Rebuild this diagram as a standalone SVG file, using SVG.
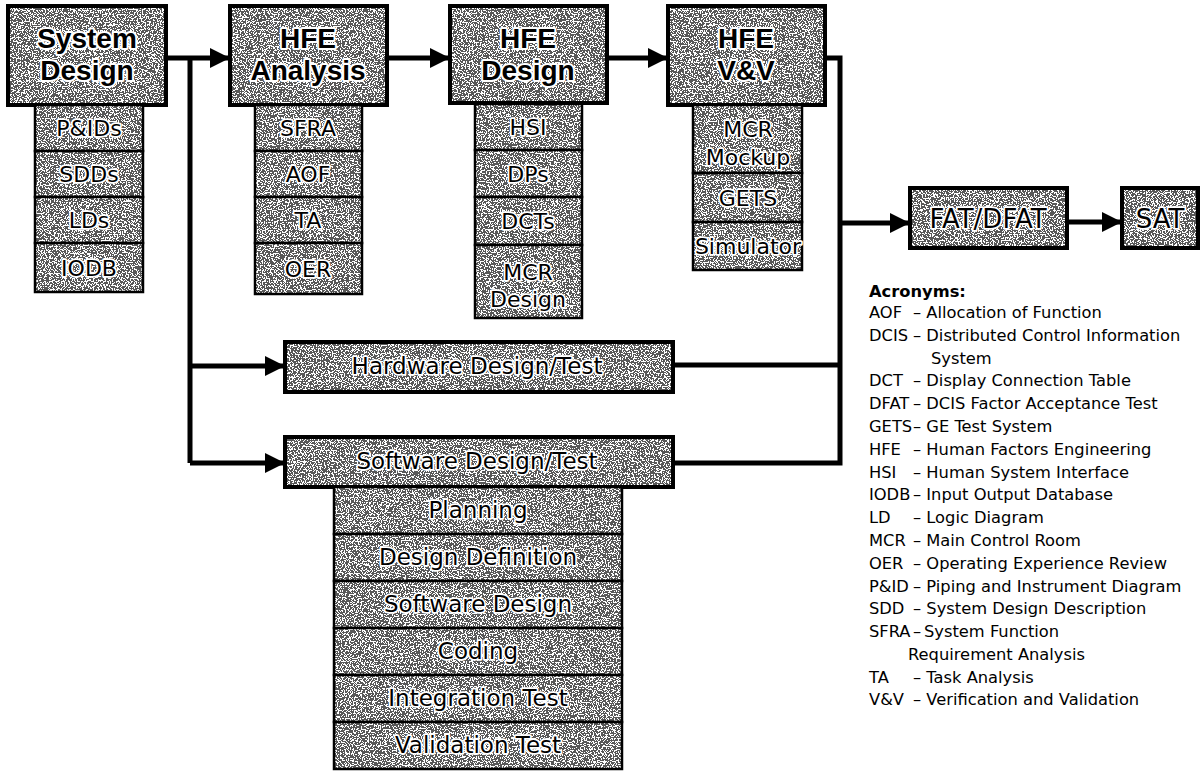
<svg xmlns="http://www.w3.org/2000/svg" width="1201" height="771" viewBox="0 0 1201 771">
<defs>
<filter id="grain" x="0" y="0" width="100%" height="100%" filterUnits="userSpaceOnUse">
<feTurbulence type="fractalNoise" baseFrequency="0.75" numOctaves="2" seed="7" result="n"/>
<feColorMatrix in="n" type="matrix" values="1 0 0 0 0  1 0 0 0 0  1 0 0 0 0  0 0 0 0 1" result="g"/>
<feComponentTransfer in="g">
<feFuncR type="discrete" tableValues="0.1 0.1 0.1 0.1 0.1 0.1 0.1 0.1 1 1 1 1 1 1 1"/>
<feFuncG type="discrete" tableValues="0.1 0.1 0.1 0.1 0.1 0.1 0.1 0.1 1 1 1 1 1 1 1"/>
<feFuncB type="discrete" tableValues="0.1 0.1 0.1 0.1 0.1 0.1 0.1 0.1 1 1 1 1 1 1 1"/>
</feComponentTransfer>
</filter>
<pattern id="noise" patternUnits="userSpaceOnUse" x="0" y="0" width="300" height="300">
<rect width="300" height="300" fill="#888" filter="url(#grain)"/>
</pattern>
<marker id="ah" markerUnits="userSpaceOnUse" markerWidth="22" markerHeight="22" refX="20" refY="10" orient="auto">
<path d="M0,0 L20,10 L0,20 Z" fill="#000"/>
</marker>
<style>
.main{fill:url(#noise);stroke:#000;stroke-width:4}
.sub{fill:url(#noise);stroke:#000;stroke-width:2.5}
text{paint-order:stroke;stroke:#fff;stroke-linejoin:round;fill:#000;text-anchor:middle}
.t{font-family:"Liberation Sans",Arial,sans-serif;font-weight:bold;font-size:28px;stroke-width:4}
.s{font-family:"DejaVu Sans",Verdana,sans-serif;font-size:22px;stroke-width:3.5}
.m{font-family:"DejaVu Sans",Verdana,sans-serif;font-size:23px;stroke-width:3.5}
.f{font-family:"DejaVu Sans",Verdana,sans-serif;font-size:26px;stroke-width:3.5}
.conn path{fill:none;stroke:#000;stroke-width:5}
.leg text{stroke:none;text-anchor:start;font-family:"DejaVu Sans",Verdana,sans-serif;font-size:16.3px}
</style>
</defs>
<rect width="1201" height="771" fill="#fff"/>

<g id="connectors" class="conn">
<path d="M166,58 H230" marker-end="url(#ah)"/>
<path d="M190,58 V463"/>
<path d="M190,366 H285" marker-end="url(#ah)"/>
<path d="M190,463 H285" marker-end="url(#ah)"/>
<path d="M387,58 H450" marker-end="url(#ah)"/>
<path d="M607,58 H668" marker-end="url(#ah)"/>
<path d="M825,58 H840 V463 H673"/>
<path d="M673,365 H840"/>
<path d="M840,223 H910" marker-end="url(#ah)"/>
<path d="M1067,222 H1122" marker-end="url(#ah)"/>
</g>

<g id="system-design"><rect class="main" x="8" y="6" width="158" height="99"/><text class="t" x="87" y="48">System</text><text class="t" x="87" y="80">Design</text></g>
<g id="pids"><rect class="sub" x="35" y="105" width="108" height="46"/><text class="s" x="89" y="136">P&amp;IDs</text></g>
<g id="sdds"><rect class="sub" x="35" y="151" width="108" height="46"/><text class="s" x="89" y="182">SDDs</text></g>
<g id="lds"><rect class="sub" x="35" y="197" width="108" height="46"/><text class="s" x="89" y="228">LDs</text></g>
<g id="iodb"><rect class="sub" x="35" y="243" width="108" height="49"/><text class="s" x="89" y="276">IODB</text></g>

<g id="hfe-analysis"><rect class="main" x="230" y="6" width="157" height="99"/><text class="t" x="308" y="48">HFE</text><text class="t" x="308" y="80">Analysis</text></g>
<g id="sfra"><rect class="sub" x="255" y="105" width="107" height="46"/><text class="s" x="308" y="136">SFRA</text></g>
<g id="aof"><rect class="sub" x="255" y="151" width="107" height="46"/><text class="s" x="308" y="182">AOF</text></g>
<g id="ta"><rect class="sub" x="255" y="197" width="107" height="46"/><text class="s" x="308" y="228">TA</text></g>
<g id="oer"><rect class="sub" x="255" y="243" width="107" height="51"/><text class="s" x="308" y="277">OER</text></g>

<g id="hfe-design"><rect class="main" x="450" y="6" width="157" height="97"/><text class="t" x="528" y="48">HFE</text><text class="t" x="528" y="80">Design</text></g>
<g id="hsi"><rect class="sub" x="475" y="104" width="107" height="46"/><text class="s" x="528" y="135">HSI</text></g>
<g id="dps"><rect class="sub" x="475" y="150" width="107" height="47"/><text class="s" x="528" y="182">DPs</text></g>
<g id="dcts"><rect class="sub" x="475" y="197" width="107" height="48"/><text class="s" x="528" y="229">DCTs</text></g>
<g id="mcr-design"><rect class="sub" x="475" y="245" width="107" height="73"/><text class="s" x="528" y="280">MCR</text><text class="s" x="528" y="307">Design</text></g>

<g id="hfe-vv"><rect class="main" x="668" y="6" width="157" height="99"/><text class="t" x="746" y="48">HFE</text><text class="t" x="746" y="80">V&amp;V</text></g>
<g id="mcr-mockup"><rect class="sub" x="693" y="105" width="109" height="68"/><text class="s" x="748" y="137">MCR</text><text class="s" x="748" y="165">Mockup</text></g>
<g id="gets"><rect class="sub" x="693" y="173" width="109" height="49"/><text class="s" x="748" y="206">GETS</text></g>
<g id="simulator"><rect class="sub" x="693" y="222" width="109" height="48"/><text class="s" x="748" y="254">Simulator</text></g>

<g id="hardware"><rect class="main" x="285" y="342" width="388" height="50"/><text class="m" x="477" y="374">Hardware Design/Test</text></g>
<g id="software"><rect class="main" x="285" y="437" width="388" height="50"/><text class="m" x="477" y="469">Software Design/Test</text></g>
<g id="planning"><rect class="sub" x="334" y="487" width="288" height="47"/><text class="m" x="478" y="518">Planning</text></g>
<g id="design-definition"><rect class="sub" x="334" y="534" width="288" height="47"/><text class="m" x="478" y="565">Design Definition</text></g>
<g id="software-design"><rect class="sub" x="334" y="581" width="288" height="47"/><text class="m" x="478" y="612">Software Design</text></g>
<g id="coding"><rect class="sub" x="334" y="628" width="288" height="47"/><text class="m" x="478" y="659">Coding</text></g>
<g id="integration-test"><rect class="sub" x="334" y="675" width="288" height="47"/><text class="m" x="478" y="706">Integration Test</text></g>
<g id="validation-test"><rect class="sub" x="334" y="722" width="288" height="47"/><text class="m" x="478" y="753">Validation Test</text></g>

<g id="fat-dfat"><rect class="main" x="910" y="188" width="157" height="60"/><text class="f" x="988" y="228">FAT/DFAT</text></g>
<g id="sat"><rect class="main" x="1122" y="188" width="76" height="60"/><text class="f" x="1160" y="228">SAT</text></g>

<g id="acronyms" class="leg">
<text x="869" y="297" font-weight="bold">Acronyms:</text>
<text x="869" y="318">AOF</text><text x="913" y="318">– Allocation of Function</text>
<text x="869" y="341">DCIS</text><text x="913" y="341">– Distributed Control Information</text>
<text x="931" y="364">System</text>
<text x="869" y="386">DCT</text><text x="913" y="386">– Display Connection Table</text>
<text x="869" y="409">DFAT</text><text x="913" y="409">– DCIS Factor Acceptance Test</text>
<text x="869" y="432">GETS</text><text x="913" y="432">– GE Test System</text>
<text x="869" y="455">HFE</text><text x="913" y="455">– Human Factors Engineering</text>
<text x="869" y="478">HSI</text><text x="913" y="478">– Human System Interface</text>
<text x="869" y="500">IODB</text><text x="913" y="500">– Input Output Database</text>
<text x="869" y="523">LD</text><text x="913" y="523">– Logic Diagram</text>
<text x="869" y="546">MCR</text><text x="913" y="546">– Main Control Room</text>
<text x="869" y="569">OER</text><text x="913" y="569">– Operating Experience Review</text>
<text x="869" y="592">P&amp;ID</text><text x="913" y="592">– Piping and Instrument Diagram</text>
<text x="869" y="614">SDD</text><text x="913" y="614">– System Design Description</text>
<text x="869" y="637">SFRA</text><text x="913" y="637">–</text><text x="924" y="637" font-size="18.5">System Function</text>
<text x="908" y="660" font-size="18.5">Requirement Analysis</text>
<text x="869" y="683">TA</text><text x="913" y="683">– Task Analysis</text>
<text x="869" y="705">V&amp;V</text><text x="913" y="705">– Verification and Validation</text>
</g>
</svg>
